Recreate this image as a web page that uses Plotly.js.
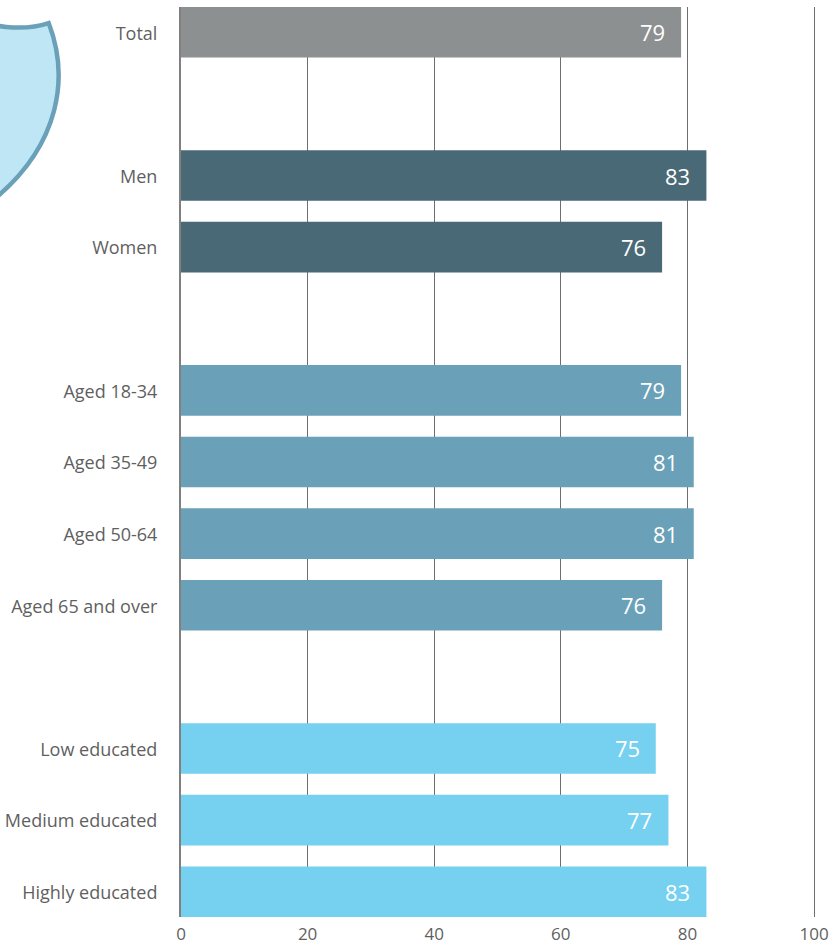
<!DOCTYPE html>
<html>
<head>
<meta charset="utf-8">
<script src="https://cdn.plot.ly/plotly-3.0.1.min.js"></script>
<style>html,body{margin:0;padding:0;background:#fff;}#c{width:838px;height:944px;}</style>
</head>
<body>
<div id="c"></div>
<script>
const rowOrder = ['Total',' ','Men','Women','  ','Aged 18-34','Aged 35-49','Aged 50-64','Aged 65 and over','   ','Low educated','Medium educated','Highly educated'];
const categories = ['Total','Men','Women','Aged 18-34','Aged 35-49','Aged 50-64','Aged 65 and over','Low educated','Medium educated','Highly educated'];
const values = [79,83,76,79,81,81,76,75,77,83];
const barColors = ['#8C9091','#4A6976','#4A6976','#6AA1B8','#6AA1B8','#6AA1B8','#6AA1B8','#76D0EF','#76D0EF','#76D0EF'];
const xTicks = [0,20,40,60,80,100];

const W = 838, H = 944, L = 181.3, R = 22, T = 7, B = 27;
const px = x => ((x - L) / (W - L - R)).toFixed(4);
const py = y => (1 - (y - T) / (H - T - B)).toFixed(4);
const xMax = (W - L - R) / 6.3272;
const shieldPath = 'M' + px(-30) + ',' + py(18) +
  ' C' + px(-10) + ',' + py(26) + ' ' + px(22) + ',' + py(32) + ' ' + px(49) + ',' + py(23) +
  ' C' + px(69) + ',' + py(75) + ' ' + px(63) + ',' + py(145) + ' ' + px(-10) + ',' + py(203) +
  ' L' + px(-30) + ',' + py(212) + ' Z';
const shieldMark = 'M' + px(-12) + ',' + py(102) +
  ' C' + px(3) + ',' + py(105) + ' ' + px(3) + ',' + py(127) + ' ' + px(-12) + ',' + py(132) + ' Z';

const annotations = categories.map((c, i) => ({
  x: values[i], y: c, xref: 'x', yref: 'y', text: String(values[i]),
  showarrow: false, xanchor: 'right', yanchor: 'middle', xshift: -14,
  font: {family: 'Open Sans, sans-serif', size: 22, color: '#ffffff'}
}));

Plotly.newPlot('c', [{
  type: 'bar', orientation: 'h', y: categories, x: values,
  marker: {color: barColors, line: {width: 0}}, hoverinfo: 'none'
}], {
  width: W, height: H, margin: {l: L, r: R, t: T, b: B, pad: 0},
  paper_bgcolor: '#ffffff', plot_bgcolor: '#ffffff', bargap: 0.294, showlegend: false,
  font: {family: 'Open Sans, sans-serif', color: '#5f5f5f', size: 18},
  xaxis: {range: [0, xMax], tickmode: 'array', tickvals: xTicks, ticktext: xTicks.map(String),
    showgrid: true, gridcolor: '#6e6e6e', gridwidth: 1, zeroline: false, showline: false,
    ticks: 'outside', ticklen: 2, tickcolor: 'rgba(0,0,0,0)', tickfont: {size: 17, color: '#5f5f5f'}, fixedrange: true},
  yaxis: {type: 'category', categoryorder: 'array', categoryarray: rowOrder,
    range: [12.353, -0.353], tickmode: 'array', tickvals: categories, ticktext: categories,
    showgrid: false, zeroline: false, showline: true, linecolor: '#808080', linewidth: 2,
    ticks: 'outside', ticklen: 18, ticklabelshift: -1, tickcolor: 'rgba(0,0,0,0)', tickfont: {size: 18, color: '#5f5f5f'}, fixedrange: true},
  annotations: annotations,
  shapes: [
    {type: 'path', xref: 'paper', yref: 'paper', path: shieldPath,
      fillcolor: '#BEE6F5', line: {color: '#6AA1B8', width: 4.5}, layer: 'above'},
    {type: 'path', xref: 'paper', yref: 'paper', path: shieldMark,
      fillcolor: '#ffffff', line: {width: 0}, layer: 'above'}
  ]
}, {displayModeBar: false, staticPlot: true});
</script>
</body>
</html>
